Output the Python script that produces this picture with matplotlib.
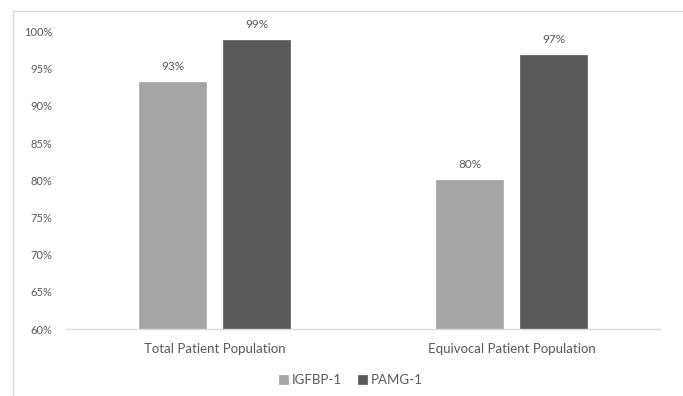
import matplotlib
matplotlib.use("Agg")
import matplotlib.pyplot as plt
from matplotlib.patches import Rectangle
from matplotlib.ticker import PercentFormatter
import numpy as np

categories = ["Total Patient Population", "Equivocal Patient Population"]
series_names = ["IGFBP-1", "PAMG-1"]
igfbp1 = [0.932, 0.800]
pamg1 = [0.988, 0.968]
colors = ["#a5a5a5", "#595959"]
y_ticks = [0.60, 0.65, 0.70, 0.75, 0.80, 0.85, 0.90, 0.95, 1.00]

plt.rcParams["font.family"] = ["Lato", "DejaVu Sans"]
text_color = "#595959"

W, H = 683, 396
fig = plt.figure(figsize=(W / 100, H / 100), dpi=100)
fig.patch.set_facecolor("white")

# chart-area frame (light gray, open at the right and bottom edges of the image)
fig.patches.append(Rectangle((13 / W, -0.05), 1.1, 1 - 11 / H + 0.05,
                             transform=fig.transFigure, fill=False,
                             edgecolor="#d9d9d9", linewidth=1.0))

ax = fig.add_axes([66 / W, 1 - 329 / H, (660 - 66) / W, (329 - 31.4) / H])
x = np.arange(len(categories))
width = 0.2256
offset = 0.1414

for vals, name, col, off in [(igfbp1, series_names[0], colors[0], -offset),
                             (pamg1, series_names[1], colors[1], offset)]:
    ax.bar(x + off, [v - 0.60 for v in vals], width, bottom=0.60,
           color=col, label=name, edgecolor=col, linewidth=0.5)
    for xi, v in zip(x + off, vals):
        ax.annotate(f"{v * 100:.0f}%", (xi, v), xytext=(0, 11.5),
                    textcoords="offset points", ha="center", va="center",
                    fontsize=8.5, color=text_color, annotation_clip=False)

ax.set_xlim(-0.5, 1.5)
ax.set_ylim(0.60, 1.00)
ax.set_yticks(y_ticks)
ax.yaxis.set_major_formatter(PercentFormatter(1.0, decimals=0))
ax.set_xticks(x)
ax.set_xticklabels(categories)

for side in ["top", "right", "left"]:
    ax.spines[side].set_visible(False)
ax.spines["bottom"].set_color("#d9d9d9")
ax.spines["bottom"].set_linewidth(1.0)

ax.tick_params(axis="y", length=0, pad=10, labelsize=8, labelcolor=text_color)
ax.tick_params(axis="x", length=0, pad=10, labelsize=9.5, labelcolor=text_color)

fig.legend(loc="center", bbox_to_anchor=(351 / W, 1 - 380 / H), ncol=2,
           frameon=False, fontsize=9.5, handlelength=0.7, handleheight=0.7,
           handletextpad=0.3, columnspacing=1.2, labelcolor=text_color)

fig.savefig("out.png", dpi=100, facecolor="white")
